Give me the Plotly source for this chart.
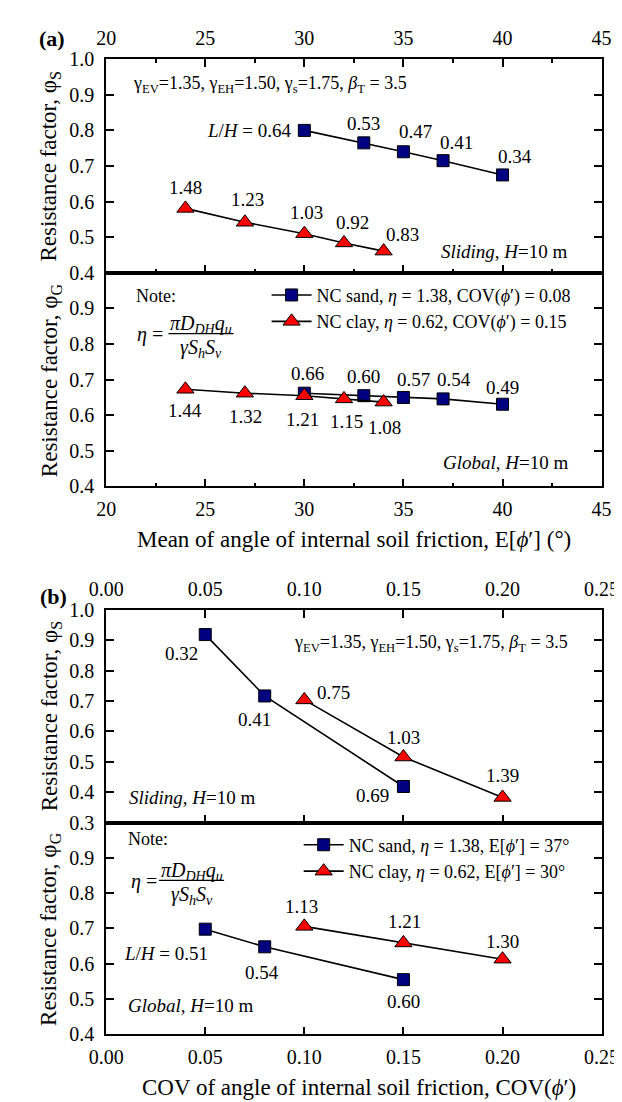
import plotly.graph_objects as go

W, H = 622, 1102
FONT = "Liberation Serif, Times New Roman, Times, DejaVu Serif, serif"

# ---------------- data: panel (a) ----------------
a_sand_x = [30, 33, 35, 37, 40]
a_clay_x = [24, 27, 30, 32, 34]
a_slide_sand = [0.800, 0.765, 0.740, 0.715, 0.675]
a_slide_clay = [0.581, 0.542, 0.510, 0.484, 0.461]
a_glob_sand = [0.662, 0.655, 0.650, 0.646, 0.631]
a_glob_clay = [0.673, 0.662, 0.655, 0.646, 0.637]
a_slide_sand_lbl = ["<i>L</i>/<i>H</i> = 0.64", "0.53", "0.47", "0.41", "0.34"]
a_slide_clay_lbl = ["1.48", "1.23", "1.03", "0.92", "0.83"]
a_glob_sand_lbl = ["0.66", "0.60", "0.57", "0.54", "0.49"]
a_glob_clay_lbl = ["1.44", "1.32", "1.21", "1.15", "1.08"]

# ---------------- data: panel (b) ----------------
b_sand_x = [0.05, 0.08, 0.15]
b_clay_x = [0.10, 0.15, 0.20]
b_slide_sand = [0.919, 0.717, 0.419]
b_slide_clay = [0.704, 0.516, 0.383]
b_glob_sand = [0.698, 0.648, 0.555]
b_glob_clay = [0.706, 0.659, 0.613]
b_slide_sand_lbl = ["0.32", "0.41", "0.69"]
b_slide_clay_lbl = ["0.75", "1.03", "1.39"]
b_glob_sand_lbl = ["<i>L</i>/<i>H</i> = 0.51", "0.54", "0.60"]
b_glob_clay_lbl = ["1.13", "1.21", "1.30"]

a_xticks = [20, 25, 30, 35, 40, 45]
b_xticks = [0.00, 0.05, 0.10, 0.15, 0.20, 0.25]

# ---------------- label offsets (px: dx, dy down, anchor) ----------------
off_a_slide_sand = [(-10, 0, "right"), (0, -19, "center"), (12, -20, "center"), (13, -18, "center"), (12, -18, "center")]
off_a_slide_clay = [(0, -21, "center"), (3, -23, "center"), (2, -21, "center"), (9, -20, "center"), (19, -17, "center")]
off_a_glob_sand = [(3, -20, "center"), (0, -19, "center"), (10, -18, "center"), (11, -19, "center"), (0, -17, "center")]
off_a_glob_clay = [(0, 21, "center"), (1, 23, "center"), (-2, 24, "center"), (3, 23, "center"), (1, 25, "center")]
off_b_slide_sand = [(-24, 19, "center"), (-10, 24, "center"), (-31, 9, "center")]
off_b_slide_clay = [(29, -7, "center"), (0, -20, "center"), (0, -22, "center")]
off_b_glob_sand = [(5, 24, "right"), (-3, 26, "center"), (0, 22, "center")]
off_b_glob_clay = [(-3, -20, "center"), (1, -21, "center"), (0, -18, "center")]

def px(x):
    return x / W

def py(y):
    return 1 - y / H

XD = [px(86), px(611)]
dom = {
    "a_top": [py(259), py(41)],
    "a_bot": [py(477), py(259)],
    "b_top": [py(820), py(603)],
    "b_bot": [py(1036), py(820)],
}

SAND = dict(symbol="square", size=12, color="#000080", line=dict(color="black", width=1))
CLAY = dict(symbol="triangle-up", size=15, color="#ff0000", line=dict(color="black", width=1))
LINE = dict(color="black", width=1.6)

fig = go.Figure()

def add(x, y, xa, ya, marker, name, legend=None, show=False):
    fig.add_trace(go.Scatter(x=x, y=y, mode="lines+markers", marker=marker, line=LINE,
                             xaxis=xa, yaxis=ya, name=name, showlegend=show,
                             legend=legend if legend else "legend"))

add(a_sand_x, a_slide_sand, "x", "y", SAND, "s1")
add(a_clay_x, a_slide_clay, "x", "y", CLAY, "c1")
add(a_sand_x, a_glob_sand, "x2", "y2", SAND,
    "NC sand, <i>η</i> = 1.38, COV(<i>ϕ</i>′) = 0.08", "legend", True)
add(a_clay_x, a_glob_clay, "x2", "y2", CLAY,
    "NC clay, <i>η</i> = 0.62, COV(<i>ϕ</i>′) = 0.15", "legend", True)
add(b_sand_x, b_slide_sand, "x3", "y3", SAND, "s3")
add(b_clay_x, b_slide_clay, "x3", "y3", CLAY, "c3")
add(b_sand_x, b_glob_sand, "x4", "y4", SAND,
    "NC sand, <i>η</i> = 1.38, E[<i>ϕ</i>′] = 37°", "legend2", True)
add(b_clay_x, b_glob_clay, "x4", "y4", CLAY,
    "NC clay, <i>η</i> = 0.62, E[<i>ϕ</i>′] = 30°", "legend2", True)

TICKFONT = dict(family=FONT, size=20, color="black")

def xaxis(rng, tickvals, anchor, side, minor, mirror, fmt):
    d = dict(domain=XD, range=rng, tickvals=tickvals, ticktext=[fmt(v) for v in tickvals],
             anchor=anchor, side=side, ticks="inside", ticklen=8, tickwidth=1.5,
             tickcolor="black", showline=True, linecolor="black", linewidth=1.6,
             mirror=mirror, showgrid=False, zeroline=False, tickfont=TICKFONT,
             ticklabelstandoff=4)
    if minor:
        d["minor"] = dict(dtick=minor, ticks="inside", ticklen=4, tickwidth=1.5,
                          tickcolor="black", showgrid=False)
    return d

def yaxis(rng, tickvals, anchor, dm):
    return dict(domain=dm, range=rng, tickvals=tickvals,
                ticktext=["%.1f" % v for v in tickvals], anchor=anchor,
                ticks="inside", ticklen=8, tickwidth=1.5, tickcolor="black",
                showline=True, linecolor="black", linewidth=1.6, mirror="ticks",
                showgrid=False, zeroline=False, tickfont=TICKFONT,
                ticklabelstandoff=6)

fa = lambda v: "%d" % v
fb = lambda v: "%.2f" % v

fig.update_layout(
    xaxis=xaxis([20, 45], a_xticks, "y", "top", 2.5, "ticks", fa),
    xaxis2=xaxis([20, 45], a_xticks, "y2", "bottom", 2.5, True, fa),
    xaxis3=xaxis([0, 0.25], b_xticks, "y3", "top", None, "ticks", fb),
    xaxis4=xaxis([0, 0.25], b_xticks, "y4", "bottom", None, True, fb),
    yaxis=yaxis([0.4, 1.0], [0.4, 0.5, 0.6, 0.7, 0.8, 0.9, 1.0], "x", dom["a_top"]),
    yaxis2=yaxis([0.4, 1.0], [0.4, 0.5, 0.6, 0.7, 0.8, 0.9], "x2", dom["a_bot"]),
    yaxis3=yaxis([0.3, 1.0], [0.3, 0.4, 0.5, 0.6, 0.7, 0.8, 0.9, 1.0], "x3", dom["b_top"]),
    yaxis4=yaxis([0.4, 1.0], [0.4, 0.5, 0.6, 0.7, 0.8, 0.9], "x4", dom["b_bot"]),
)

LEGFONT = dict(family=FONT, size=18, color="black")
fig.update_layout(
    legend=dict(x=px(256), y=py(263), xanchor="left", yanchor="top", font=LEGFONT,
                bgcolor="rgba(0,0,0,0)", tracegroupgap=0, itemwidth=40),
    legend2=dict(x=px(290), y=py(824), xanchor="left", yanchor="top", font=LEGFONT,
                 bgcolor="rgba(0,0,0,0)", tracegroupgap=0, itemwidth=40),
)

ann = []
shapes = []

def label_set(xs, ys, labels, offs, xa, ya):
    for x, y, t, (dx, dy, anc) in zip(xs, ys, labels, offs):
        ann.append(dict(x=x, y=y, xref=xa, yref=ya, text=t, showarrow=False,
                        xanchor=anc, yanchor="middle", xshift=dx, yshift=-dy,
                        font=dict(family=FONT, size=19, color="black")))

label_set(a_sand_x, a_slide_sand, a_slide_sand_lbl, off_a_slide_sand, "x", "y")
label_set(a_clay_x, a_slide_clay, a_slide_clay_lbl, off_a_slide_clay, "x", "y")
label_set(a_sand_x, a_glob_sand, a_glob_sand_lbl, off_a_glob_sand, "x2", "y2")
label_set(a_clay_x, a_glob_clay, a_glob_clay_lbl, off_a_glob_clay, "x2", "y2")
label_set(b_sand_x, b_slide_sand, b_slide_sand_lbl, off_b_slide_sand, "x3", "y3")
label_set(b_clay_x, b_slide_clay, b_slide_clay_lbl, off_b_slide_clay, "x3", "y3")
label_set(b_sand_x, b_glob_sand, b_glob_sand_lbl, off_b_glob_sand, "x4", "y4")
label_set(b_clay_x, b_glob_clay, b_glob_clay_lbl, off_b_glob_clay, "x4", "y4")

def text(x, y, t, size=18, anchor="left", angle=0):
    ann.append(dict(x=px(x), y=py(y), xref="paper", yref="paper", text=t,
                    showarrow=False, xanchor=anchor, yanchor="middle", textangle=angle,
                    font=dict(family=FONT, size=size, color="black")))

gam = ("γ<sub>EV</sub>=1.35, γ<sub>EH</sub>=1.50, γ<sub>s</sub>=1.75, "
       "<i>β</i><sub>T</sub> = 3.5")
text(112, 67, gam, 18, "left")
text(578, 637, gam, 18, "right")
text(577, 237, "<i>Sliding</i>, <i>H</i>=10 m", 19, "right")
text(108, 794, "<i>Sliding</i>, <i>H</i>=10 m", 19, "left")
text(577, 453, "<i>Global</i>, <i>H</i>=10 m", 19, "right")
text(107, 1007, "<i>Global</i>, <i>H</i>=10 m", 19, "left")

# Note and fraction
def note(x0, ynote, xeq, yline, x1, x2):
    text(x0, ynote, "Note:", 18, "left")
    text(xeq, yline + 1, "<i>η</i> =", 20, "left")
    xc = (x1 + x2) / 2
    text(xc, yline - 9, "<i>πD<sub>DH</sub>q<sub>u</sub></i>", 20, "center")
    text(xc, yline + 15, "<i>γS<sub>h</sub>S<sub>v</sub></i>", 20, "center")
    shapes.append(dict(type="line", xref="paper", yref="paper", x0=px(x1), x1=px(x2),
                       y0=py(yline), y1=py(yline), line=dict(color="black", width=1.2)))

note(116, 283, 117, 321, 152, 221)
note(107, 837, 110, 879, 142, 211)

# axis titles
text(349, 531, "Mean of angle of internal soil friction, E[<i>ϕ</i>′] (°)", 23, "center")
text(354, 1090, "COV of angle of internal soil friction, COV(<i>ϕ</i>′)", 23, "center")
for yc, sub in [(150, "S"), (368, "G"), (711, "S"), (928, "G")]:
    text(27, yc, "Resistance factor, φ<sub>%s</sub>" % sub, 23, "center", -90)

ann.append(dict(x=px(29), y=py(20), xref="paper", yref="paper", text="<b>(a)</b>", showarrow=False,
                xanchor="center", yanchor="middle", font=dict(family=FONT, size=22, color="black")))
ann.append(dict(x=px(30), y=py(589), xref="paper", yref="paper", text="<b>(b)</b>", showarrow=False,
                xanchor="center", yanchor="middle", font=dict(family=FONT, size=22, color="black")))

fig.update_layout(annotations=ann, shapes=shapes, width=W, height=H,
                  margin=dict(l=0, r=0, t=0, b=0), paper_bgcolor="white",
                  plot_bgcolor="white", font=dict(family=FONT, color="black"))

fig.write_html("out.html")
